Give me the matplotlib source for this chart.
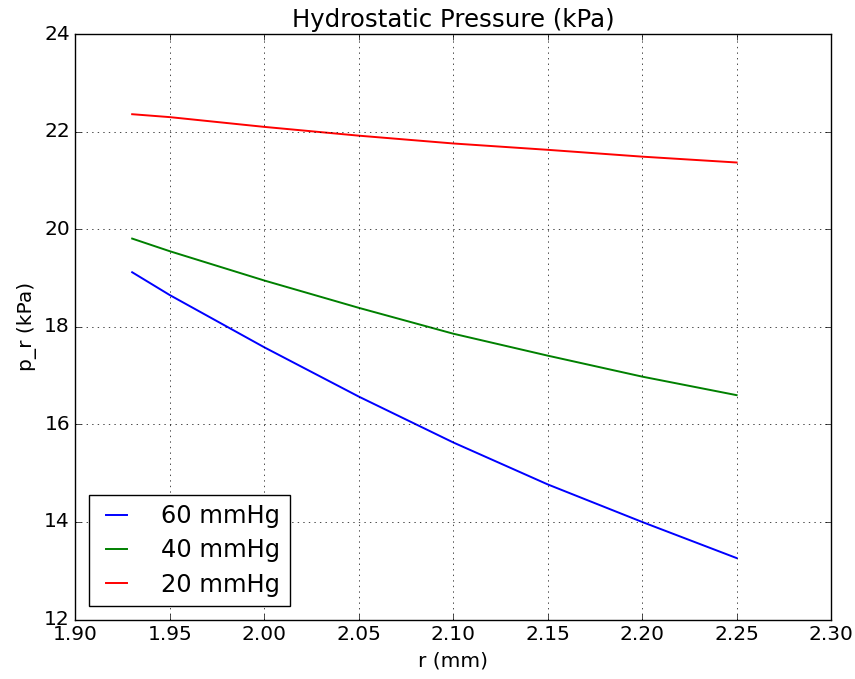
import matplotlib
matplotlib.use('Agg')
import matplotlib.pyplot as plt

# values
r = [1.93, 1.95, 2.00, 2.05, 2.10, 2.15, 2.20, 2.25]
p_60 = [19.12, 18.65, 17.58, 16.57, 15.63, 14.77, 14.00, 13.26]
p_40 = [19.81, 19.55, 18.95, 18.39, 17.86, 17.41, 16.98, 16.60]
p_20 = [22.36, 22.30, 22.10, 21.92, 21.76, 21.63, 21.49, 21.37]
labels = ['60 mmHg', '40 mmHg', '20 mmHg']

plt.style.use('classic')
plt.rcParams['font.family'] = ['DejaVu Sans']

fig = plt.figure(figsize=(8.55, 6.79), dpi=100, facecolor='white')
ax = fig.add_axes([0.0883, 0.0876, 0.8837, 0.862])

ax.plot(r, p_60, color='b', lw=1.4, label=labels[0])
ax.plot(r, p_40, color='g', lw=1.4, label=labels[1])
ax.plot(r, p_20, color='r', lw=1.4, label=labels[2])

ax.set_xlim(1.90, 2.30)
ax.set_ylim(12, 24)
ax.set_xticks([1.90, 1.95, 2.00, 2.05, 2.10, 2.15, 2.20, 2.25, 2.30])
ax.set_yticks([12, 14, 16, 18, 20, 22, 24])
ax.tick_params(labelsize=14.5)
ax.grid(True)

ax.set_title('Hydrostatic Pressure (kPa)', fontsize=17.6)
ax.set_xlabel('r (mm)', fontsize=14.5)
ax.set_ylabel('p_r (kPa)', fontsize=14.5)

leg = ax.legend(loc='lower left', fontsize=17.4, handlelength=1.5,
                handletextpad=1.1, borderaxespad=0.55, borderpad=0.4,
                labelspacing=0.42)
leg.get_frame().set_edgecolor('black')

fig.savefig('out.png', dpi=100, facecolor='white')
